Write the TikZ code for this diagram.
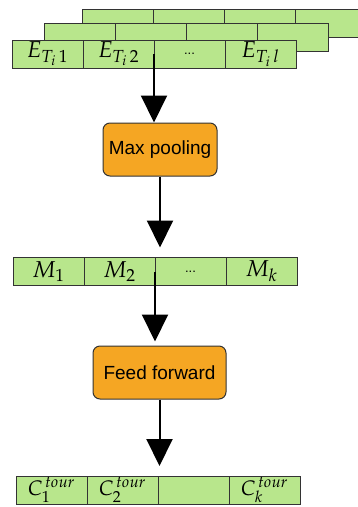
\documentclass[tikz,border=0pt]{standalone}
\usepackage{mathpazo}
\usepackage[no-math]{fontspec}
\newfontfamily\opfont{Liberation Sans}
\usepackage{tikz}
\usetikzlibrary{arrows.meta,positioning}

\definecolor{cellgreen}{RGB}{184,230,140}
\definecolor{oporange}{RGB}{245,166,35}

\begin{document}
\begin{tikzpicture}[
    x=1pt, y=-1pt,
    cell/.style={rectangle, draw=black!80, line width=1pt, fill=cellgreen, minimum width=71pt, minimum height=28pt, inner sep=0pt, outer sep=0pt, anchor=west, font=\fontsize{23}{26}\selectfont},
    outcell/.style={cell, font=\fontsize{21}{24}\selectfont},
    op/.style={rectangle, rounded corners=7pt, draw=black!80, line width=1pt, fill=oporange, minimum height=53pt, font=\opfont\fontsize{19}{22}\selectfont},
    arrow/.style={-{Triangle[width=26pt,length=27pt]}, line width=2pt}
]
\useasboundingbox (0,0) rectangle (358,507);

% Embedding layers behind the front row
\foreach \dx/\dy [count=\k] in {70/-31, 32/-17} {
    \foreach \i in {0,...,3} {
        \node[cell] (L\k-\i) at (12+\dx+71*\i, 54+\dy) {};
    }
}

% Front row of embeddings
\node[cell] (e1) at (12,54) {$E_{T_i\,1}$};
\node[cell, right=0pt of e1] (e2) {$E_{T_i\,2}$};
\node[cell, right=0pt of e2] (e3) {\opfont\fontsize{13}{15}\selectfont ...};
\node[cell, right=0pt of e3] (e4) {$E_{T_i\,l}$};

% Operations
\node[op, minimum width=114pt] (pool) at (160,149.5) {Max pooling};
\node[op, minimum width=133pt] (ff) at (159.5,372.5) {Feed forward};

% Pooled row
\node[cell] (m1) at (13,271.5) {$M_1$};
\node[cell, right=0pt of m1] (m2) {$M_2$};
\node[cell, right=0pt of m2] (m3) {\opfont\fontsize{13}{15}\selectfont ...};
\node[cell, right=0pt of m3] (m4) {$M_k$};

% Output row
\node[outcell] (c1) at (16,490) {$C_1^{\,tour}$};
\node[outcell, right=0pt of c1] (c2) {$C_2^{\,tour}$};
\node[outcell, right=0pt of c2] (c3) {};
\node[outcell, right=0pt of c3] (c4) {$C_k^{\,tour}$};

% Arrows
\draw[arrow] (e2.east) -- (e2.east |- pool.north);
\draw[arrow, shorten >=10pt] (pool.south) -- (pool.south |- m1.north);
\draw[arrow, shorten >=4pt] (m2.east) -- (m2.east |- ff.north);
\draw[arrow, shorten >=10pt] (ff.south) -- (ff.south |- c1.north);

\end{tikzpicture}
\end{document}
